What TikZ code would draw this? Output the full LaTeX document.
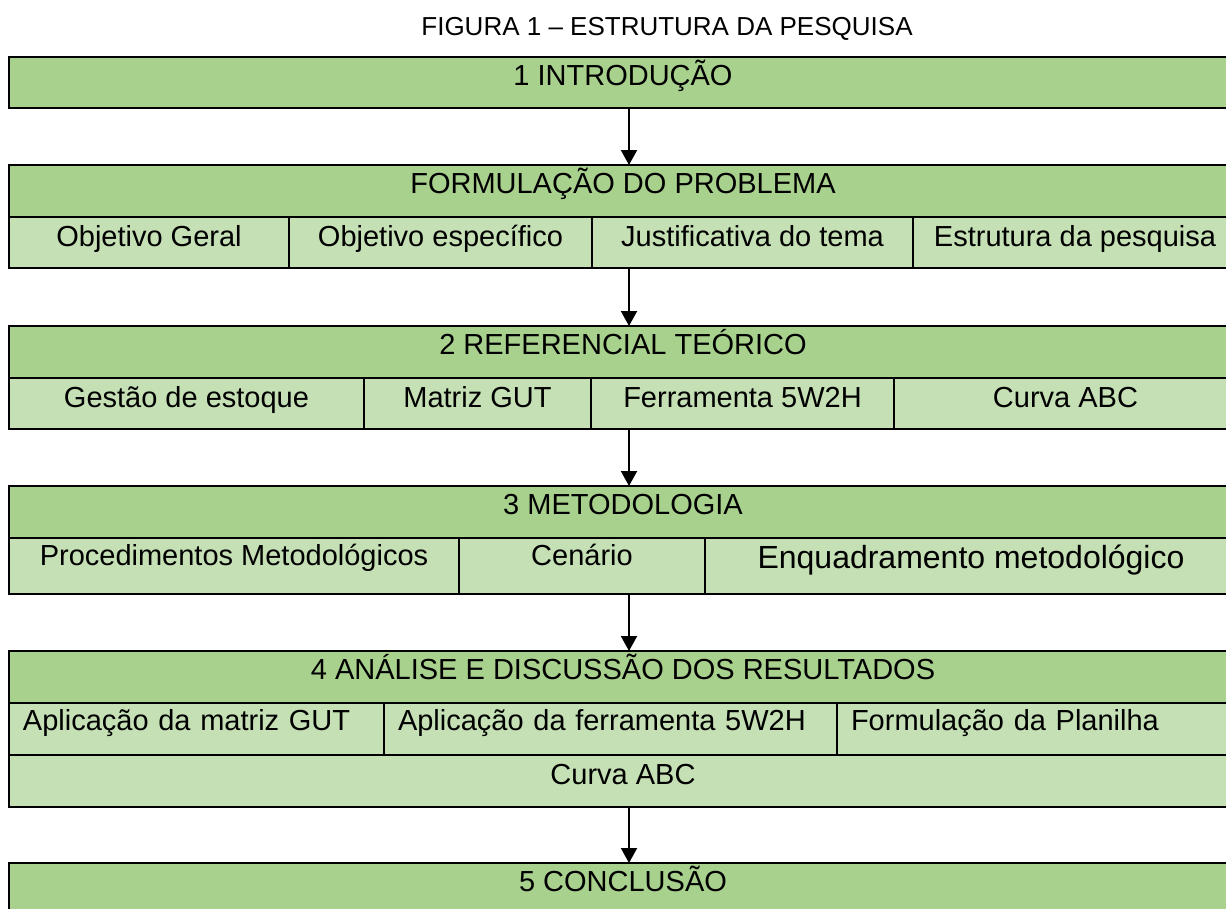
\documentclass[tikz,border=0pt]{standalone}
\usepackage{fontspec}
\setmainfont{Liberation Sans}
\usetikzlibrary{arrows.meta}
\definecolor{hdrgreen}{HTML}{A9D18E}
\definecolor{rowgreen}{HTML}{C5E0B4}
\begin{document}
\begin{tikzpicture}[x=1pt,y=-1pt,
  cell/.style={draw=black, line width=2pt, inner sep=0pt, outer sep=0pt, anchor=north west,
               font=\fontsize{29}{34}\selectfont},
  hdr/.style={cell, fill=hdrgreen},
  rowc/.style={cell, fill=rowgreen},
  lcell/.style={rowc, text width=#1, align=left, inner xsep=14pt},
  arr/.style={line width=2pt, -{Triangle[width=16pt,length=15pt]}},
  ]
\useasboundingbox (0,0) rectangle (1226,908);
\clip (0,0) rectangle (1226,908);
\fill[white] (0,0) rectangle (1226,908);

\node[anchor=base, inner sep=0pt, font=\fontsize{26}{30}\selectfont] (title) at (667,35)
  {FIGURA 1 – ESTRUTURA DA PESQUISA};

% 1 Introducao
\node[hdr, minimum width=1228pt, text height=28pt, text depth=23pt] (intro) at (9,57) {1 INTRODUÇÃO};

% Formulacao do problema
\node[hdr, minimum width=1228pt, text height=28pt, text depth=24pt] (form) at (9,165) {FORMULAÇÃO DO PROBLEMA};
\node[rowc, minimum width=280pt, text height=29pt, text depth=22pt] (og) at (9,217) {Objetivo Geral};
\node[rowc, minimum width=303pt, text height=29pt, text depth=22pt] (oe) at (289,217) {Objetivo específico};
\node[rowc, minimum width=321pt, text height=29pt, text depth=22pt] (jt) at (592,217) {Justificativa do tema};
\node[rowc, minimum width=324pt, text height=29pt, text depth=22pt] (ep) at (913,217) {Estrutura da pesquisa};

% 2 Referencial teorico
\node[hdr, minimum width=1228pt, text height=28pt, text depth=24pt] (ref) at (9,326) {2 REFERENCIAL TEÓRICO};
\node[rowc, minimum width=355pt, text height=29pt, text depth=22pt] (ge) at (9,378) {Gestão de estoque};
\node[rowc, minimum width=227pt, text height=29pt, text depth=22pt] (mg) at (364,378) {Matriz GUT};
\node[rowc, minimum width=303pt, text height=29pt, text depth=22pt] (fw) at (591,378) {Ferramenta 5W2H};
\node[rowc, minimum width=343pt, text height=29pt, text depth=22pt] (ca) at (894,378) {Curva ABC};

% 3 Metodologia
\node[hdr, minimum width=1228pt, text height=28pt, text depth=24pt] (met) at (9,486) {3 METODOLOGIA};
\node[rowc, minimum width=450pt, text height=27pt, text depth=29pt] (pm) at (9,538) {Procedimentos Metodológicos};
\node[rowc, minimum width=246pt, text height=27pt, text depth=29pt] (ce) at (459,538) {Cenário};
\node[rowc, minimum width=532pt, text height=30pt, text depth=26pt, font=\fontsize{32}{38}\selectfont] (em) at (705,538) {Enquadramento metodológico};

% 4 Analise
\node[hdr, minimum width=1228pt, text height=28pt, text depth=24pt] (ana) at (9,651) {4 ANÁLISE E DISCUSSÃO DOS RESULTADOS};
\node[lcell=347pt, text height=27pt, text depth=25pt] (am) at (9,703) {Aplicação da matriz GUT};
\node[lcell=425pt, text height=27pt, text depth=25pt] (af) at (384,703) {Aplicação da ferramenta 5W2H};
\node[lcell=372pt, text height=27pt, text depth=25pt] (fp) at (837,703) {Formulação da Planilha};
\node[rowc, minimum width=1228pt, text height=29pt, text depth=23pt] (cabc) at (9,755) {Curva ABC};

% 5 Conclusao
\node[hdr, minimum width=1228pt, text height=28pt, text depth=32pt] (conc) at (9,863) {5 CONCLUSÃO};

% arrows
\coordinate (ax) at (629,0);
\draw[arr] (ax |- intro.south) -- (ax |- form.north);
\draw[arr] (ax |- oe.south) -- (ax |- ref.north);
\draw[arr] (ax |- fw.south) -- (ax |- met.north);
\draw[arr] (ax |- em.south) -- (ax |- ana.north);
\draw[arr] (ax |- cabc.south) -- (ax |- conc.north);
\end{tikzpicture}
\end{document}
